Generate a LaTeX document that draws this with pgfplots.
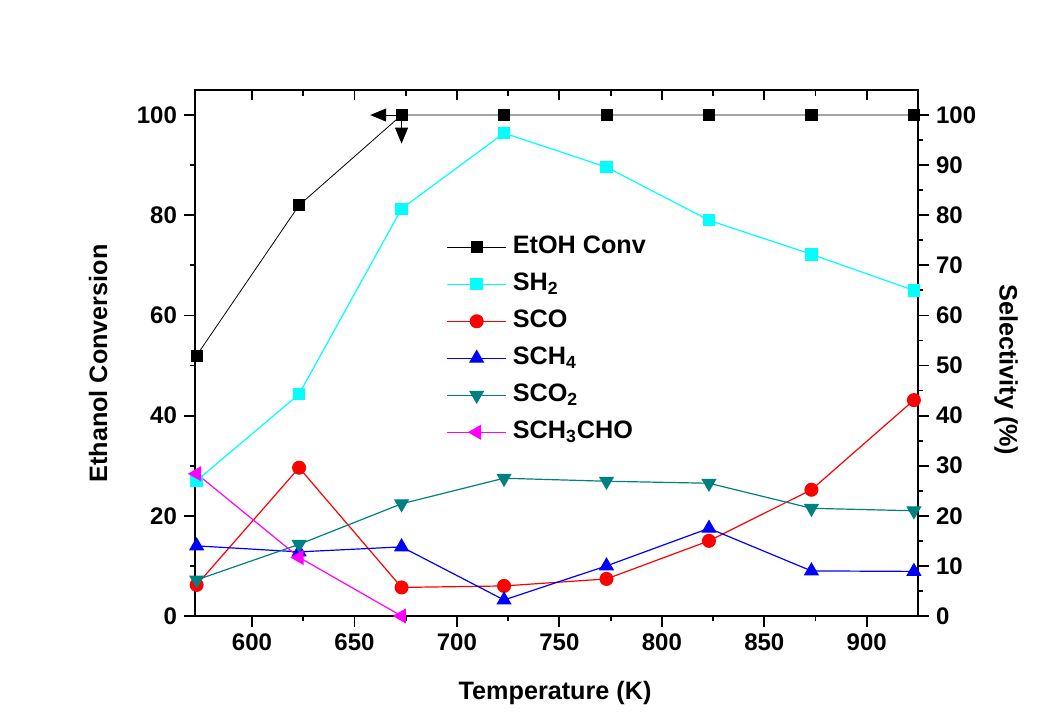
\documentclass[border=0pt]{standalone}
\usepackage{fontspec}
\setmainfont{Liberation Sans}
\usepackage{pgfplots}
\pgfplotsset{compat=1.18}
\usetikzlibrary{arrows.meta}
\definecolor{cH}{RGB}{0,255,255}
\definecolor{cCO}{RGB}{255,0,0}
\definecolor{cCH}{RGB}{0,0,255}
\definecolor{cCOt}{RGB}{0,128,128}
\definecolor{cAc}{RGB}{255,0,255}
\pgfplotsset{
  common/.style={
    scale only axis, width=361.5pt, height=263pt,
    xmin=572.2, xmax=925, ymin=0, ymax=105,
    /pgf/number format/assume math mode=true,
    tick label style={font=\bfseries\fontsize{12}{14}\selectfont},
    label style={font=\bfseries\fontsize{12.6}{15}\selectfont},
    major tick length=5.5pt, minor tick length=2.6pt,
    tick style={black, line width=0.9pt},
    axis line style={line width=1pt},
  }
}
\begin{document}
\begin{tikzpicture}
% left axis
\begin{axis}[common,
  tick align=outside,
  xtick pos=left, ytick pos=left,
  xtick={600,650,...,900}, minor x tick num=1,
  ytick={0,20,...,100}, minor y tick num=1,
  xlabel={Temperature (K)},
  ylabel={Ethanol Conversion},
  xlabel style={at={(rel axis cs:0.498,-0.146)}, anchor=center},
  ylabel style={at={(rel axis cs:-0.134,0.480)}, anchor=center},
]
\addplot[black, line width=0.4pt, mark=square*, mark size=2.8pt] coordinates {
(573,52) (623,82) (673,100) (723,100) (773,100) (823,100) (873,100) (923,100)};
\draw[black, line width=0.5pt, -{Triangle[length=8pt,width=6.5pt]}] (axis cs:673,100) -- (axis cs:657.7,100);
\draw[black, line width=0.5pt, -{Triangle[length=8pt,width=6.5pt]}] (axis cs:673,100) -- (axis cs:673,94.3);
\end{axis}
% top inward ticks
\begin{axis}[common,
  hide y axis, axis line style={draw=none},
  tick align=inside, xtick pos=right,
  xtick={600,650,...,900}, minor x tick num=1,
  xticklabels={}, major tick length=5pt, minor tick length=3pt,
]
\end{axis}
% right axis
\begin{axis}[common,
  hide x axis, axis line style={draw=none},
  tick align=outside, ytick pos=right, yticklabel pos=right,
  ytick={0,10,...,100}, minor y tick num=1,
  ylabel={Selectivity (\%)},
  ylabel style={at={(rel axis cs:1.122,0.468)}, anchor=center, rotate=180},
  legend cell align=left,
  legend style={draw=none, fill=none, at={(rel axis cs:0.339,0.736)}, anchor=north west,
    font=\bfseries\fontsize{12.6}{15}\selectfont, row sep=4.5pt, column sep=2pt,
    nodes={inner sep=1pt, text height=9pt, text depth=3pt}},
  legend image code/.code={\draw[mark repeat=2,mark phase=2] plot coordinates {(0cm,0cm) (0.52cm,0cm) (1.04cm,0cm)};},
]
\addlegendimage{black, line width=0.4pt, mark=square*, mark size=2.8pt}
\addlegendentry{EtOH Conv}
\addplot[cH, line width=0.6pt, mark=square*, mark size=2.8pt] coordinates {
(573,27) (623,44.3) (673,81.3) (723,96.4) (773,89.6) (823,79) (873,72.2) (923,65)};
\addlegendentry{SH\textsubscript{2}}
\addplot[cCO, line width=0.6pt, mark=*, mark size=3.2pt] coordinates {
(573,6.2) (623,29.6) (673,5.7) (723,6) (773,7.4) (823,15) (873,25.2) (923,43.1)};
\addlegendentry{SCO}
\addplot[cCH, line width=0.6pt, mark=triangle*, mark size=3.8pt] coordinates {
(573,14) (623,12.8) (673,13.8) (723,3.2) (773,10) (823,17.5) (873,9) (923,8.9)};
\addlegendentry{SCH\textsubscript{4}}
\addplot[cCOt, line width=0.6pt, mark=triangle*, mark size=3.8pt, mark options={rotate=180}] coordinates {
(573,7.2) (623,14.3) (673,22.4) (723,27.5) (773,26.9) (823,26.5) (873,21.5) (923,21)};
\addlegendentry{SCO\textsubscript{2}}
\addplot[cAc, line width=0.6pt, mark=triangle*, mark size=3.8pt, mark options={rotate=90}] coordinates {
(573,28.4) (623,11.7) (673,0)};
\addlegendentry{SCH\textsubscript{3}CHO}
\end{axis}
\path (-97.5pt,-56pt) rectangle (425pt,308pt);
\end{tikzpicture}
\end{document}
